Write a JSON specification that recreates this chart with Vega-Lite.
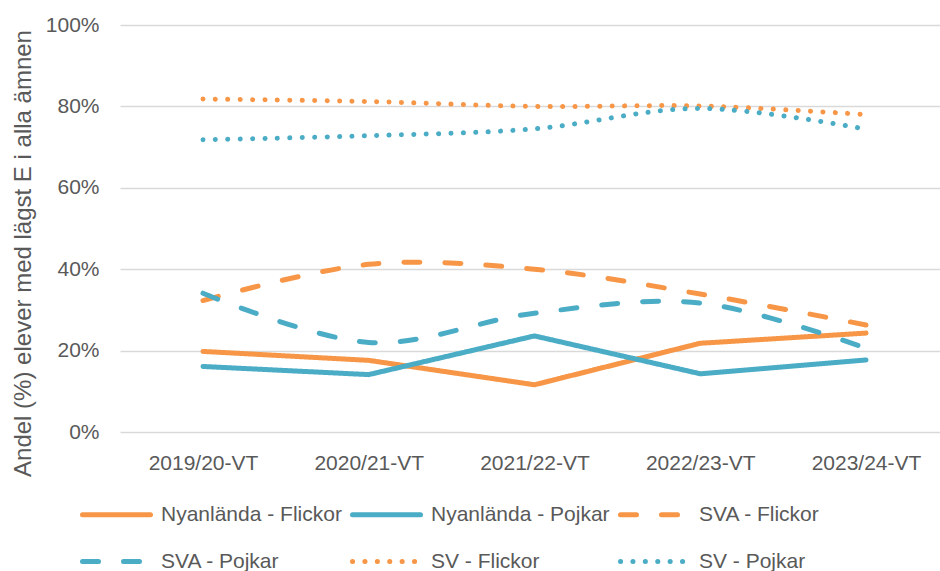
{
  "$schema": "https://vega.github.io/schema/vega-lite/v6.json",
  "width": 820,
  "height": 407,
  "autosize": {"type": "none"},
  "padding": {"left": 120, "top": 25, "right": 0, "bottom": 139},
  "background": "white",
  "config": {
    "view": {"stroke": null},
    "font": "Liberation Sans",
    "axis": {"labelColor": "#595959", "titleColor": "#595959", "labelFontSize": 21, "labelFont": "Liberation Sans", "titleFont": "Liberation Sans", "titleFontWeight": "normal"},
    "legend": {"labelColor": "#595959", "labelFontSize": 21, "labelFont": "Liberation Sans", "labelLimit": 0}
  },
  "data": {
    "values": [
      {"year": "2019/20-VT", "series": "Nyanlända - Flickor", "style": "solid", "value": 0.198},
      {"year": "2020/21-VT", "series": "Nyanlända - Flickor", "style": "solid", "value": 0.176},
      {"year": "2021/22-VT", "series": "Nyanlända - Flickor", "style": "solid", "value": 0.116},
      {"year": "2022/23-VT", "series": "Nyanlända - Flickor", "style": "solid", "value": 0.218},
      {"year": "2023/24-VT", "series": "Nyanlända - Flickor", "style": "solid", "value": 0.243},
      {"year": "2019/20-VT", "series": "Nyanlända - Pojkar", "style": "solid", "value": 0.161},
      {"year": "2020/21-VT", "series": "Nyanlända - Pojkar", "style": "solid", "value": 0.141},
      {"year": "2021/22-VT", "series": "Nyanlända - Pojkar", "style": "solid", "value": 0.236},
      {"year": "2022/23-VT", "series": "Nyanlända - Pojkar", "style": "solid", "value": 0.143},
      {"year": "2023/24-VT", "series": "Nyanlända - Pojkar", "style": "solid", "value": 0.177},
      {"year": "2019/20-VT", "series": "SVA - Flickor", "style": "smooth", "value": 0.323},
      {"year": "2020/21-VT", "series": "SVA - Flickor", "style": "smooth", "value": 0.412},
      {"year": "2021/22-VT", "series": "SVA - Flickor", "style": "smooth", "value": 0.400},
      {"year": "2022/23-VT", "series": "SVA - Flickor", "style": "smooth", "value": 0.339},
      {"year": "2023/24-VT", "series": "SVA - Flickor", "style": "smooth", "value": 0.263},
      {"year": "2019/20-VT", "series": "SVA - Pojkar", "style": "smooth", "value": 0.341},
      {"year": "2020/21-VT", "series": "SVA - Pojkar", "style": "smooth", "value": 0.220},
      {"year": "2021/22-VT", "series": "SVA - Pojkar", "style": "smooth", "value": 0.292},
      {"year": "2022/23-VT", "series": "SVA - Pojkar", "style": "smooth", "value": 0.317},
      {"year": "2023/24-VT", "series": "SVA - Pojkar", "style": "smooth", "value": 0.206},
      {"year": "2019/20-VT", "series": "SV - Flickor", "style": "smooth", "value": 0.818},
      {"year": "2020/21-VT", "series": "SV - Flickor", "style": "smooth", "value": 0.812},
      {"year": "2021/22-VT", "series": "SV - Flickor", "style": "smooth", "value": 0.800},
      {"year": "2022/23-VT", "series": "SV - Flickor", "style": "smooth", "value": 0.801},
      {"year": "2023/24-VT", "series": "SV - Flickor", "style": "smooth", "value": 0.780},
      {"year": "2019/20-VT", "series": "SV - Pojkar", "style": "smooth", "value": 0.718},
      {"year": "2020/21-VT", "series": "SV - Pojkar", "style": "smooth", "value": 0.728},
      {"year": "2021/22-VT", "series": "SV - Pojkar", "style": "smooth", "value": 0.745},
      {"year": "2022/23-VT", "series": "SV - Pojkar", "style": "smooth", "value": 0.795},
      {"year": "2023/24-VT", "series": "SV - Pojkar", "style": "smooth", "value": 0.744}
    ]
  },
  "encoding": {
    "x": {
      "field": "year", "type": "ordinal",
      "scale": {"type": "point", "padding": 0.4736, "align": 0.5287},
      "axis": {"title": null, "labelAngle": 0, "domain": false, "ticks": false, "grid": false, "labelPadding": 20}
    },
    "y": {
      "field": "value", "type": "quantitative",
      "scale": {"domain": [0, 1], "nice": false},
      "axis": {
        "title": "Andel (%) elever med lägst E i alla ämnen",
        "titleFontSize": 24, "titleAngle": 270, "titleBaseline": "alphabetic", "titleAlign": "center",
        "titleX": -90, "titleY": 228,
        "values": [0, 0.2, 0.4, 0.6, 0.8, 1], "format": ".0%",
        "domain": false, "ticks": false, "labelPadding": 21,
        "grid": true, "gridColor": "#D9D9D9", "gridWidth": 1.5
      }
    },
    "color": {
      "field": "series", "type": "nominal",
      "scale": {
        "domain": ["Nyanlända - Flickor", "Nyanlända - Pojkar", "SVA - Flickor", "SVA - Pojkar", "SV - Flickor", "SV - Pojkar"],
        "range": ["#F79646", "#4BACC6", "#F79646", "#4BACC6", "#F79646", "#4BACC6"]
      },
      "legend": {
        "title": null, "orient": "none", "legendX": -40, "legendY": 453, "columns": 3, "direction": "horizontal",
        "symbolType": "stroke", "symbolSize": 4624, "symbolStrokeWidth": 5,
        "labelOffset": 8, "columnPadding": 0, "rowPadding": -25,
        "encoding": {"symbols": {"strokeCap": {"value": "round"}}}
      }
    },
    "strokeDash": {
      "field": "series", "type": "nominal",
      "scale": {
        "domain": ["Nyanlända - Flickor", "Nyanlända - Pojkar", "SVA - Flickor", "SVA - Pojkar", "SV - Flickor", "SV - Pojkar"],
        "range": [[1, 0], [1, 0], [16, 25], [16, 25], [0.1, 12.3], [0.1, 12.3]]
      },
      "legend": {
        "title": null, "orient": "none", "legendX": -40, "legendY": 453, "columns": 3, "direction": "horizontal",
        "symbolType": "stroke", "symbolSize": 4624, "symbolStrokeWidth": 5,
        "labelOffset": 8, "columnPadding": 0, "rowPadding": -25,
        "encoding": {"symbols": {"strokeCap": {"value": "round"}}}
      }
    }
  },
  "layer": [
    {
      "transform": [{"filter": "datum.style === 'solid'"}],
      "mark": {"type": "line", "strokeWidth": 5, "interpolate": "linear", "strokeCap": "round", "strokeJoin": "round"}
    },
    {
      "transform": [{"filter": "datum.style === 'smooth'"}],
      "mark": {"type": "line", "strokeWidth": 5, "interpolate": "cardinal", "strokeCap": "round", "strokeJoin": "round"}
    }
  ]
}
